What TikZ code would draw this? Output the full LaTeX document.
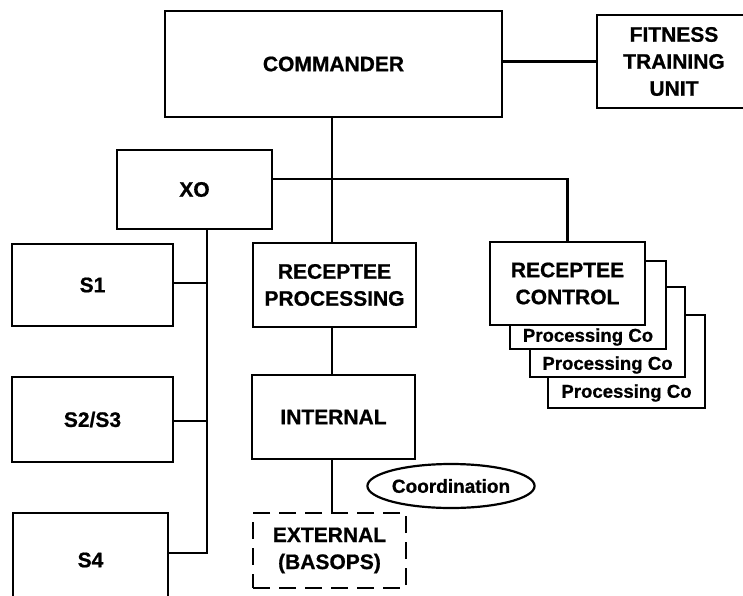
\documentclass[tikz,border=0pt]{standalone}
\usepackage{fontspec}
\setmainfont{Liberation Sans}[BoldFeatures={FakeBold=0.8}]
\usetikzlibrary{shapes.geometric}
\begin{document}
\begin{tikzpicture}[x=1pt,y=-1pt,
  box/.style={draw,line width=2.4pt,fill=white,inner sep=0pt,align=center,
              font=\bfseries\fontsize{21}{27}\selectfont},
  dashbox/.style={box,dash pattern=on 17pt off 9pt},
  link/.style={line width=2.4pt},
  cotext/.style={inner sep=0pt,font=\bfseries\fontsize{18.6}{22}\selectfont},
  oval/.style={draw,ellipse,line width=2.2pt,fill=white,inner sep=0pt,
               font=\bfseries\fontsize{19}{22}\selectfont}]
\useasboundingbox (0,0) rectangle (743,596);
\clip (0,0) rectangle (743,596);
\fill[white] (0,0) rectangle (743,596);

% top level
\node[box,minimum width=337pt,minimum height=106pt] (cmd) at (333.5,64) {COMMANDER};
\node[box,minimum width=154pt,minimum height=93pt] (fit) at (674,61.5) {FITNESS\\TRAINING\\UNIT};
\node[box,minimum width=155pt,minimum height=79pt] (xo) at (194.5,189.5) {XO};

% staff sections
\node[box,minimum width=161pt,minimum height=82pt] (s1) at (92.5,285) {S1};
\node[box,minimum width=161pt,minimum height=85pt] (s23) at (92.5,419.5) {S2/S3};
\node[box,minimum width=155pt,minimum height=94pt] (s4) at (90.5,560) {S4};

% processing chain
\node[box,minimum width=163pt,minimum height=84pt] (rp) at (334.5,285) {RECEPTEE\\PROCESSING};
\node[box,minimum width=163pt,minimum height=84pt] (int) at (333.5,417) {INTERNAL};
\node[dashbox,minimum width=153pt,minimum height=75pt] (ext) at (329.5,550.5) {EXTERNAL\\(BASOPS)};
\node[oval,minimum width=138pt,minimum height=44pt] (coord) at (451,486) {Coordination};

% stacked processing companies behind receptee control
\node[box,minimum width=157pt,minimum height=93pt] (pc3) at (626.5,361.5) {};
\node[cotext] (pc3t) at (626.5,393) {Processing Co};
\node[box,minimum width=155pt,minimum height=90pt] (pc2) at (607.5,332) {};
\node[cotext] (pc2t) at (607.5,365) {Processing Co};
\node[box,minimum width=156pt,minimum height=88pt] (pc1) at (588,305) {};
\node[cotext] (pc1t) at (588,337) {Processing Co};
\node[box,minimum width=155pt,minimum height=83pt] (rc) at (567.5,283.5) {RECEPTEE\\CONTROL};

% junction points of the lines
\coordinate (cbus) at (332,0);
\coordinate (xbus) at (207,0);
\coordinate (jrc) at (567.5,179);
\coordinate (j1) at (0,283);
\coordinate (j23) at (0,421);
\coordinate (j4) at (0,553);

% connectors
\draw[link] (cmd.east |- fit.west) -- (fit.west);
\draw[link] (cmd.south -| cbus) -- (rp.north -| cbus);
\draw[link] (rp.south -| cbus) -- (int.north -| cbus);
\draw[link] (int.south -| cbus) -- (ext.north -| cbus);
\draw[link] (xo.east |- jrc) -- (jrc) -- (rc.north);
\draw[link] (xo.south -| xbus) -- (xbus |- j4) -- (s4.east |- j4);
\draw[link] (s1.east |- j1) -- (xbus |- j1);
\draw[link] (s23.east |- j23) -- (xbus |- j23);
\end{tikzpicture}
\end{document}
